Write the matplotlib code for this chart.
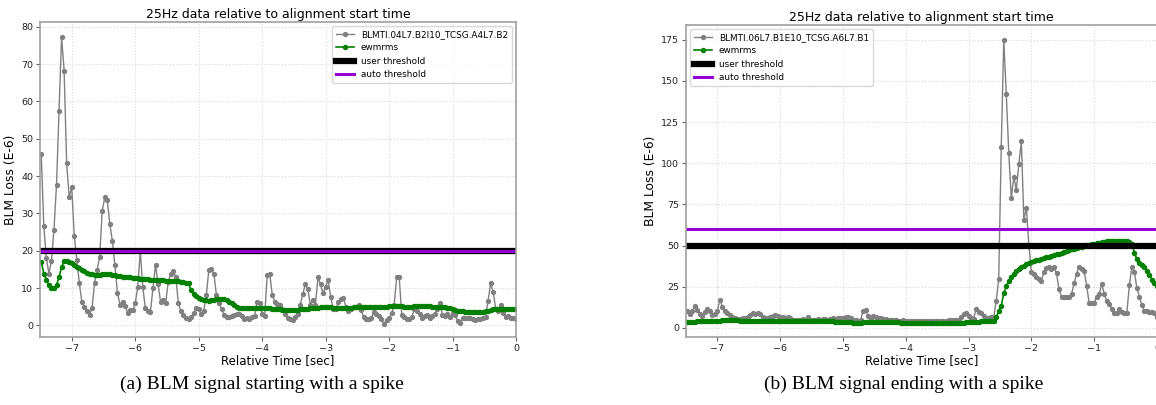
#BLM loss traces around the alignment start, two collimator examples side by side
import matplotlib
matplotlib.use('Agg')
import matplotlib.pyplot as plt
import numpy as np

DT = 0.04  # 25 Hz sampling, last sample taken at alignment start

# --- (a) spike at the start ---
left_name = "BLMTI.04L7.B2I10_TCSG.A4L7.B2"
left_blm = [
    45.9, 26.7, 18.0, 13.9, 17.3, 25.7, 37.6, 57.5, 77.3, 68.3,
    43.4, 34.4, 37.0, 23.9, 17.5, 11.3, 6.2, 5.0, 3.8, 2.8,
    4.7, 11.3, 14.8, 18.4, 30.6, 34.3, 33.6, 27.2, 22.7, 16.1,
    8.7, 5.6, 6.4, 5.3, 3.4, 4.1, 4.1, 5.9, 10.3, 19.9,
    10.2, 4.6, 3.8, 3.6, 9.9, 16.3, 11.1, 6.3, 6.8, 5.9,
    11.7, 13.8, 14.6, 12.9, 5.9, 3.8, 2.8, 2.0, 1.6, 2.2,
    3.2, 4.8, 4.5, 3.0, 3.9, 8.1, 14.8, 15.0, 13.8, 8.1,
    5.9, 4.5, 2.9, 2.3, 2.2, 2.5, 2.9, 3.0, 3.0, 2.5,
    1.6, 2.0, 1.6, 2.3, 2.4, 6.4, 5.9, 3.0, 2.5, 13.5,
    13.7, 8.1, 6.3, 5.7, 5.4, 4.5, 3.0, 2.0, 1.6, 1.4,
    2.3, 3.0, 5.4, 8.4, 11.0, 9.7, 5.6, 6.8, 5.6, 12.9,
    11.0, 8.6, 10.4, 12.1, 7.7, 4.5, 4.3, 6.3, 7.0, 7.4,
    5.0, 3.9, 4.5, 5.0, 5.0, 5.4, 4.1, 2.3, 1.7, 1.6,
    1.9, 3.7, 3.0, 2.5, 1.6, 0.5, 1.4, 1.9, 3.2, 5.4,
    12.9, 12.9, 2.8, 2.3, 1.7, 1.6, 2.3, 4.5, 3.9, 3.0,
    1.9, 2.5, 2.8, 1.9, 2.5, 3.0, 4.5, 6.1, 2.8, 2.5,
    3.0, 2.3, 3.2, 2.8, 1.2, 0.7, 1.9, 1.9, 1.9, 1.9,
    1.6, 1.4, 1.8, 1.6, 1.9, 2.3, 6.6, 11.3, 9.0, 4.5,
    3.9, 5.4, 3.4, 2.3, 2.5, 2.1, 2.1, 1.6,
]
left_ewm = [
    17.1, 13.9, 12.3, 10.8, 10.1, 10.1, 10.8, 12.9, 15.7, 17.2,
    17.2, 17.0, 16.6, 16.1, 15.7, 15.3, 14.8, 14.5, 14.1, 13.8,
    13.7, 13.5, 13.5, 13.6, 13.8, 13.9, 13.9, 13.8, 13.6, 13.4,
    13.3, 13.2, 13.1, 13.0, 12.9, 12.9, 12.8, 12.7, 12.6, 12.5,
    12.5, 12.4, 12.4, 12.3, 12.3, 12.2, 12.2, 12.1, 12.1, 12.0,
    12.0, 11.9, 11.9, 11.8, 11.8, 11.7, 11.6, 11.5, 11.3, 9.5,
    8.4, 7.8, 7.4, 7.1, 6.9, 6.7, 6.6, 6.7, 6.8, 7.0,
    7.1, 7.1, 7.0, 6.8, 6.4, 5.9, 5.4, 5.0, 4.7, 4.6,
    4.6, 4.6, 4.6, 4.6, 4.6, 4.6, 4.6, 4.6, 4.6, 4.6,
    4.6, 4.5, 4.5, 4.4, 4.3, 4.2, 4.2, 4.1, 4.1, 4.1,
    4.1, 4.2, 4.3, 4.3, 4.4, 4.5, 4.6, 4.7, 4.8, 4.8,
    4.9, 4.9, 5.0, 5.0, 4.9, 4.8, 4.7, 4.6, 4.6, 4.6,
    4.6, 4.7, 4.8, 4.9, 5.0, 5.0, 5.0, 5.0, 5.0, 5.0,
    5.0, 5.0, 5.0, 5.0, 5.0, 5.0, 5.0, 5.1, 5.2, 5.2,
    5.2, 5.2, 5.1, 5.0, 5.0, 5.0, 5.0, 5.1, 5.1, 5.2,
    5.2, 5.2, 5.1, 5.1, 5.0, 5.0, 5.0, 5.0, 5.0, 4.9,
    4.8, 4.6, 4.4, 4.2, 4.0, 3.9, 3.8, 3.7, 3.6, 3.6,
    3.6, 3.6, 3.6, 3.6, 3.7, 3.9, 4.0, 4.2, 4.3, 4.4,
    4.5, 4.5, 4.5, 4.4, 4.4, 4.4, 4.4, 4.4,
]
left_user_thr = 20
left_auto_thr = 20
left_yticks = [0, 10, 20, 30, 40, 50, 60, 70, 80]

# --- (b) spike at the end ---
right_name = "BLMTI.06L7.B1E10_TCSG.A6L7.B1"
right_blm = [
    10.1, 8.7, 10.3, 13.3, 10.7, 8.7, 7.5, 9.7, 11.2, 10.0,
    7.7, 8.5, 10.5, 17.2, 12.7, 10.3, 9.1, 7.7, 6.7, 6.3,
    5.7, 5.7, 5.9, 6.3, 6.7, 8.1, 9.1, 8.7, 9.1, 8.3,
    6.7, 6.3, 6.1, 6.7, 7.3, 7.7, 7.3, 6.7, 6.7, 6.3,
    6.5, 5.9, 5.1, 4.7, 5.1, 5.1, 5.5, 4.9, 6.9, 5.1,
    4.7, 5.1, 5.3, 5.1, 5.3, 5.5, 5.1, 5.5, 5.9, 5.7,
    5.9, 6.3, 6.3, 6.7, 6.7, 5.9, 5.1, 4.7, 4.5, 4.6,
    10.5, 11.0, 7.1, 4.7, 7.1, 6.7, 6.3, 6.1, 5.7, 5.3,
    5.1, 5.1, 4.9, 4.7, 4.5, 4.5, 4.7, 4.5, 4.3, 4.5,
    4.5, 4.3, 4.5, 4.3, 4.1, 4.3, 4.3, 4.5, 4.1, 4.3,
    4.3, 4.3, 4.1, 4.3, 4.7, 4.7, 4.7, 5.1, 5.1, 6.7,
    8.3, 9.2, 7.1, 6.3, 5.7, 11.8, 9.8, 8.8, 7.1, 6.3,
    6.3, 6.7, 6.5, 16.5, 30.0, 110.0, 175.0, 142.0, 106.0, 78.7,
    91.9, 83.8, 99.4, 113.2, 65.5, 73.0, 50.0, 34.0, 33.0, 31.0,
    30.0, 28.6, 34.1, 36.1, 36.7, 35.5, 36.7, 33.1, 23.4, 18.9,
    18.9, 18.5, 18.9, 20.9, 27.0, 33.0, 37.1, 35.9, 34.7, 25.4,
    15.2, 15.2, 15.2, 18.9, 20.9, 26.6, 20.9, 16.5, 14.8, 11.2,
    9.2, 8.8, 11.2, 9.8, 9.2, 9.2, 26.0, 37.1, 34.1, 24.0,
    18.9, 13.8, 10.4, 10.2, 9.8, 9.4, 8.8, 6.7,
]
right_ewm = [
    3.6, 3.7, 3.8, 3.9, 4.0, 4.1, 4.2, 4.2, 4.3, 4.3,
    4.3, 4.3, 4.4, 4.5, 4.6, 4.6, 4.6, 4.6, 4.6, 4.6,
    4.6, 4.5, 4.5, 4.5, 4.5, 4.5, 4.5, 4.5, 4.5, 4.5,
    4.5, 4.5, 4.5, 4.4, 4.4, 4.4, 4.4, 4.4, 4.4, 4.4,
    4.3, 4.3, 4.3, 4.3, 4.2, 4.2, 4.2, 4.2, 4.2, 4.2,
    4.2, 4.1, 4.1, 4.1, 4.1, 4.1, 4.0, 4.0, 4.0, 3.9,
    3.9, 3.8, 3.7, 3.6, 3.5, 3.4, 3.3, 3.2, 3.2, 3.1,
    3.4, 3.6, 3.6, 3.6, 3.6, 3.6, 3.6, 3.6, 3.6, 3.5,
    3.5, 3.5, 3.4, 3.4, 3.4, 3.3, 3.3, 3.3, 3.2, 3.2,
    3.2, 3.1, 3.1, 3.0, 3.0, 3.0, 3.0, 2.9, 2.9, 2.9,
    2.9, 2.9, 2.9, 3.0, 3.0, 3.0, 3.1, 3.1, 3.1, 3.2,
    3.3, 3.4, 3.5, 3.6, 3.7, 3.8, 3.9, 4.0, 4.0, 4.1,
    4.2, 4.3, 4.3, 6.5, 10.0, 13.5, 21.0, 25.5, 28.5, 31.0,
    33.0, 34.6, 35.8, 36.8, 37.8, 38.8, 39.6, 40.2, 40.7, 41.0,
    41.5, 42.0, 42.5, 42.9, 43.3, 43.7, 44.1, 44.6, 45.1, 45.7,
    46.2, 46.7, 47.2, 47.7, 48.2, 48.6, 49.0, 49.4, 49.8, 50.2,
    50.6, 50.9, 51.2, 51.5, 51.8, 52.1, 52.3, 52.5, 52.7, 52.9,
    53.0, 53.0, 53.0, 53.0, 52.9, 52.7, 52.3, 51.0, 45.7, 41.6,
    39.2, 38.2, 36.7, 34.7, 32.1, 29.4, 27.0, 25.6,
]
right_user_thr = 50
right_auto_thr = 60
right_yticks = [0, 25, 50, 75, 100, 125, 150, 175]

xticks = [-7, -6, -5, -4, -3, -2, -1, 0]
captions = ["(a) BLM signal starting with a spike", "(b) BLM signal ending with a spike"]

W, H = 1156, 405


def times(vals):
    n = len(vals)
    return -DT * np.arange(n - 1, -1, -1)


def px_axes(fig, x0, x1, y0, y1):
    # pixel box (top-left origin) -> figure fraction
    return fig.add_axes([x0 / W, 1 - y1 / H, (x1 - x0) / W, (y1 - y0) / H])


def draw(ax, name, blm, ewm, user_thr, auto_thr, yticks, ylim, loc):
    ax.plot(times(blm), blm, '-o', color='gray', lw=1.0, ms=2.8, label=name)
    ax.plot(times(ewm), ewm, '-o', color='green', lw=1.2, ms=2.9, label='ewmrms')
    ax.axhline(user_thr, color='black', lw=4.5, label='user threshold')
    ax.axhline(auto_thr, color='darkviolet', lw=2.2, label='auto threshold')
    ax.set_xlim(-7.5, 0)
    ax.set_ylim(*ylim)
    ax.set_xticks(xticks)
    ax.set_yticks(yticks)
    ax.grid(True, ls=':', color='#d8d8d8', lw=0.8)
    for s in ax.spines.values():
        s.set_color('#a0a0a0')
        s.set_linewidth(1.2)
    ax.tick_params(labelsize=6.8, length=3, color='#606060', labelcolor='#222222', pad=2)
    ax.set_title("25Hz data relative to alignment start time", fontsize=9, pad=3)
    ax.set_xlabel("Relative Time [sec]", fontsize=8.5, labelpad=1)
    ax.set_ylabel("BLM Loss (E-6)", fontsize=8.8, labelpad=3)
    leg = ax.legend(loc=loc, fontsize=6.4)
    leg.get_frame().set_edgecolor('#d0d0d0')


fig = plt.figure(figsize=(W / 100, H / 100), dpi=100)

ax1 = px_axes(fig, 40, 516, 22, 337)
draw(ax1, left_name, left_blm, left_ewm, left_user_thr, left_auto_thr,
     left_yticks, (-3.1, 81.3), 'upper right')

ax2 = px_axes(fig, 686, 1157, 25, 337)
draw(ax2, right_name, right_blm, right_ewm, right_user_thr, right_auto_thr,
     right_yticks, (-5.5, 183.9), 'upper left')

fig.text(262 / W, 1 - 384 / H, captions[0], ha='center', va='center',
         family='Liberation Serif', fontsize=14)
fig.text(904 / W, 1 - 384 / H, captions[1], ha='center', va='center',
         family='Liberation Serif', fontsize=14)

fig.savefig("out.png", dpi=100)
